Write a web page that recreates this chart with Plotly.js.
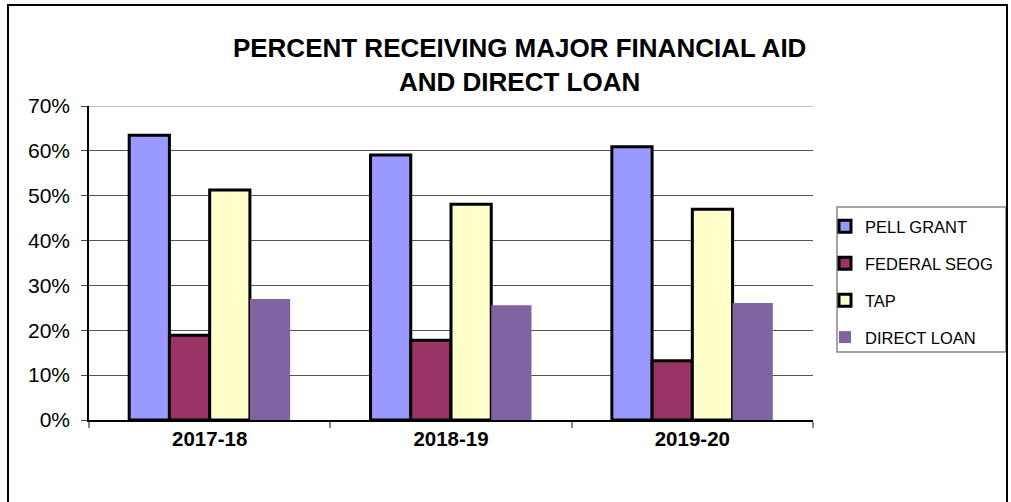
<!DOCTYPE html>
<html>
<head>
<meta charset="utf-8">
<script src="https://cdn.plot.ly/plotly-3.0.1.min.js"></script>
<style>
html,body{margin:0;padding:0;background:#fff;}
#wrap{position:relative;width:1011px;height:502px;}
#chart{width:1011px;height:502px;}
#frame{position:absolute;left:7px;top:4px;width:997px;height:520px;border:2px solid #000;pointer-events:none;}
</style>
</head>
<body>
<div id="wrap"><div id="chart"></div><div id="frame"></div></div>
<script>
var categories = ["2017-18", "2018-19", "2019-20"];
var pellGrant = [0.635, 0.591, 0.609];
var federalSeog = [0.189, 0.178, 0.132];
var tap = [0.513, 0.481, 0.470];
var directLoan = [0.270, 0.256, 0.261];
var seriesNames = ["PELL GRANT", "FEDERAL SEOG", "TAP", "DIRECT LOAN"];
var tickValues = [0, 0.1, 0.2, 0.3, 0.4, 0.5, 0.6, 0.7];
var tickLabels = ["0%", "10%", "20%", "30%", "40%", "50%", "60%", "70%"];

var colors = ["#9999FF", "#993366", "#FFFFCC", "#8064A2"];
var outlines = [3, 3, 3, 0];
var values = [pellGrant, federalSeog, tap, directLoan];

var traces = values.map(function (v, i) {
  return {
    type: "bar",
    x: categories,
    y: v,
    name: seriesNames[i],
    legendgroup: "g" + i,
    marker: { color: colors[i], line: { color: "#000", width: outlines[i] } },
    hoverinfo: "x+y+name"
  };
});

var layout = {
  width: 1011,
  height: 502,
  margin: { l: 89, r: 198, t: 106, b: 82 },
  paper_bgcolor: "#fff",
  plot_bgcolor: "#fff",
  font: { family: "Liberation Sans, Arial, sans-serif", color: "#000" },
  title: {
    text: "<b>PERCENT RECEIVING MAJOR FINANCIAL AID<br>AND DIRECT LOAN</b>",
    font: { size: 26, family: "Liberation Sans, Arial, sans-serif", color: "#000" },
    xref: "container", x: 0.514, xanchor: "center",
    yref: "container", y: 1 - 57 / 502, yanchor: "middle"
  },
  barmode: "group",
  bargap: 0.333,
  bargroupgap: 0,
  xaxis: {
    type: "category",
    showline: true, linecolor: "#000", linewidth: 1.5,
    ticks: "outside", tickson: "boundaries", ticklen: 6, tickcolor: "#888", tickwidth: 1.5,
    tickfont: { size: 20.5, family: "Liberation Sans, Arial, sans-serif", color: "#000", weight: "bold" },
    showgrid: false
  },
  yaxis: {
    range: [0, 0.7],
    tickvals: tickValues,
    ticktext: tickLabels,
    showline: true, linecolor: "#000", linewidth: 1.5,
    ticks: "outside", ticklen: 6, tickcolor: "#444", tickwidth: 1,
    ticklabelstandoff: 7,
    tickfont: { size: 21, family: "Liberation Sans, Arial, sans-serif", color: "#000" },
    showgrid: true, gridcolor: "#555", gridwidth: 1,
    zeroline: false, fixedrange: true
  },
  showlegend: true,
  legend: {
    x: (825 - 89) / 724, xanchor: "left",
    y: (420 - 209) / 314, yanchor: "top",
    traceorder: "grouped",
    tracegroupgap: 12.5,
    bgcolor: "rgba(0,0,0,0)",
    borderwidth: 0,
    font: { size: 16.5, family: "Liberation Sans, Arial, sans-serif", color: "#000" }
  },
  shapes: [
    { type: "rect", xref: "paper", yref: "paper",
      x0: (837 - 89) / 724, x1: (1006 - 89) / 724,
      y0: (420 - 352) / 314, y1: (420 - 207) / 314,
      line: { color: "#888", width: 1.5 }, fillcolor: "rgba(0,0,0,0)", layer: "below" },
    { type: "line", xref: "paper", yref: "y", x0: 0, x1: 1, y0: 0.7, y1: 0.7,
      line: { color: "#aaa", width: 1.5 }, layer: "below" }
  ]
};

Plotly.newPlot("chart", traces, layout, { displayModeBar: false, staticPlot: false });
</script>
</body>
</html>
